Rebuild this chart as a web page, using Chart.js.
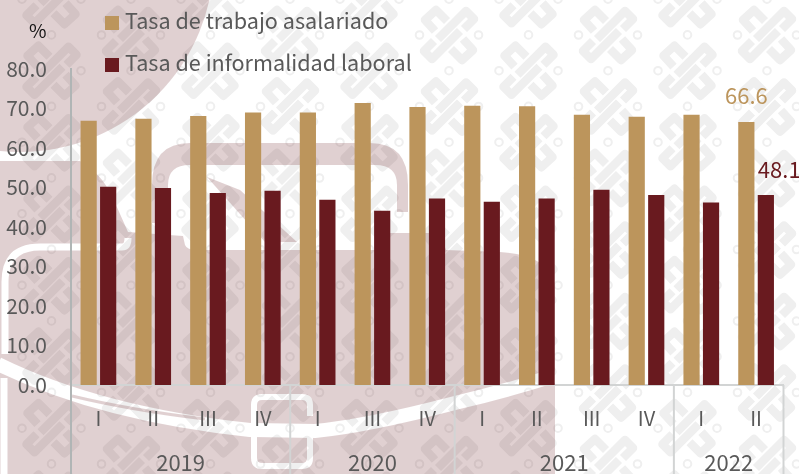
<!DOCTYPE html>
<html>
<head>
<meta charset="utf-8">
<script src="https://cdn.jsdelivr.net/npm/chart.js@4/dist/chart.umd.min.js"></script>
<style>
  html, body { margin: 0; padding: 0; background: #fff; overflow: hidden; }
  #wrap { position: relative; width: 799px; height: 474px; overflow: hidden; font-family: "Noto Sans CJK SC", "Noto Sans", sans-serif; }
  #bg, #chart { position: absolute; left: 0; top: 0; }
  .leg { position: absolute; left: 105px; color: #595959; font-size: 21.6px; line-height: 30px; white-space: nowrap; }
  .leg i { display: inline-block; width: 14px; height: 14px; margin-right: 6px; vertical-align: -1px; }
  #unit { position: absolute; left: 29px; top: 16px; font-size: 19px; line-height: 28px; color: #111; }
</style>
</head>
<body>
<div id="wrap">
  <svg id="bg" width="799" height="474" xmlns="http://www.w3.org/2000/svg">
    <defs>
      <g id="motif" fill="none" stroke="#efefef" stroke-width="8.5" stroke-linejoin="round">
        <path d="M-11,4 L17,-24 L25,-16 L15,-6"/>
        <path d="M11,-4 L-17,24 L-25,16 L-15,6"/>
        <path d="M-2,-14 L-13,-25 L-24,-15 L-14,-4"/>
        <path d="M2,14 L13,25 L24,15 L14,4"/>
        <circle cx="-29.5" cy="0" r="3.8" stroke-width="2"/>
        <circle cx="29.5" cy="0" r="3.8" stroke-width="2"/>
        <circle cx="0" cy="35.7" r="3.8" stroke-width="2"/>
      </g>
      <mask id="cuts" maskUnits="userSpaceOnUse" x="0" y="0" width="799" height="474">
        <rect width="799" height="474" fill="#fff"/>
        <g fill="none" stroke="#000" stroke-linejoin="round">
          <path d="M-2,364 Q100,414 250,430 L315,431 Q367,426 455,403 Q510,390 556,375" stroke-width="14"/>
          <path d="M5,354 L5,282 Q5,247 40,247 L122,247 Q128,247 128,238" stroke-width="7"/>
          <path d="M4,378 L4,474" stroke-width="7"/>
          <path d="M254,427 L254,405 Q254,397 262,397 L302,397 Q310,397 310,405 L310,416 M310,432 L310,458 Q310,466 302,466 L262,466 Q254,466 254,458 L254,435" stroke-width="6"/>
        </g>
        <g fill="none" stroke="#fff" stroke-width="3">
          <path d="M72,396 Q130,410 205,419"/>
          <path d="M316,417 L350,418"/>
        </g>
      </mask>
    </defs>
    <rect width="799" height="474" fill="#fff"/>
    <g id="motifs"></g>
    <g fill="#691a1f" opacity="0.2" mask="url(#cuts)">
      <circle cx="20" cy="-42" r="194"/>
      <path d="M0,161 L80,161 Q100,172 112,196 L128,232 L183,236 L185,245 Q187,250 197,250 L390,250 L390,233 L440,233 L446,250 L500,252 Q555,256 555,290 L555,474 L0,474 Z"/>
      <path d="M152,223 L152,185 Q152,143 190,143 L370,143 Q408,143 408,185 L408,212 L397,212 L397,185 Q397,165 375,165 L190,165 Q168,165 168,185 L168,223 Z"/>
      <path d="M207,177 L240,190 L297,242 L265,242 Z"/>
    </g>
  </svg>
  <canvas id="chart" width="799" height="474"></canvas>
  <div id="unit">%</div>
  <div class="leg" id="leg0" style="top:5px"></div>
  <div class="leg" id="leg1" style="top:47px"></div>
</div>
<script>
// quarters shown on the axis, 2020 has no II in the source
const quarters = ["I", "II", "III", "IV", "I", "III", "IV", "I", "II", "III", "IV", "I", "II"];
const years = ["2019", "2020", "2021", "2022"];
const yearSpans = [4, 3, 4, 2];
const asalariado = [66.9, 67.4, 68.1, 69.0, 69.0, 71.4, 70.4, 70.7, 70.6, 68.4, 67.9, 68.4, 66.6];
const informalidad = [50.2, 49.9, 48.6, 49.2, 46.9, 44.1, 47.2, 46.4, 47.2, 49.4, 48.1, 46.2, 48.1];

const gold = "#bc955c";
const maroon = "#691a1f";
const textGrey = "#595959";
const fontName = '"Noto Sans CJK SC", "Noto Sans", sans-serif';

// watermark tiles
const motifs = document.getElementById("motifs");
for (let k = -2; k < 12; k++) {
    for (let j = -1; j < 8; j++) {
        const use = document.createElementNS("http://www.w3.org/2000/svg", "use");
        const cx = 608 - 79.5 * (k - 4);
        const cy = 35 + 71.5 * j + (Math.abs(k) % 2 ? 35.7 : 0);
        use.setAttribute("href", "#motif");
        use.setAttribute("transform", "translate(" + cx + "," + cy + ")");
        motifs.appendChild(use);
    }
}

// year row and separators below the axis
const yearAxis = {
    id: "yearAxis",
    afterDraw(chart) {
        const ctx = chart.ctx;
        const x = chart.scales.x;
        const bottom = chart.chartArea.bottom;
        const step = x.getPixelForTick(1) - x.getPixelForTick(0);
        let start = 0;
        ctx.save();
        ctx.font = "22px " + fontName;
        ctx.textAlign = "center";
        ctx.textBaseline = "middle";
        ctx.lineWidth = 2;
        ctx.strokeStyle = "#b0b5b5";
        ctx.beginPath();
        ctx.moveTo(x.left, bottom);
        ctx.lineTo(x.left, 474);
        ctx.stroke();
        ctx.strokeStyle = "#d2d4d4";
        years.forEach(function (year, i) {
            const left = x.getPixelForTick(start) - step / 2;
            const right = left + step * yearSpans[i];
            ctx.beginPath();
            ctx.moveTo(right, bottom);
            ctx.lineTo(right, 474);
            ctx.stroke();
            ctx.fillStyle = textGrey;
            ctx.fillText(year, (left + right) / 2, 463);
            start += yearSpans[i];
        });
        ctx.restore();
    }
};

// only the last quarter carries a value label
const lastLabels = {
    id: "lastLabels",
    afterDatasetsDraw(chart) {
        const ctx = chart.ctx;
        const last = quarters.length - 1;
        const a = chart.getDatasetMeta(0).data[last];
        const b = chart.getDatasetMeta(1).data[last];
        ctx.save();
        ctx.font = "22px " + fontName;
        ctx.textBaseline = "middle";
        ctx.textAlign = "center";
        ctx.fillStyle = gold;
        ctx.fillText(asalariado[last].toFixed(1), a.x, a.y - 26);
        ctx.fillStyle = maroon;
        ctx.textAlign = "left";
        ctx.fillText(informalidad[last].toFixed(1), b.x - 8, b.y - 25);
        ctx.restore();
    }
};

const chart = new Chart(document.getElementById("chart"), {
    type: "bar",
    data: {
        labels: quarters,
        datasets: [
            { label: "Tasa de trabajo asalariado", data: asalariado, backgroundColor: gold },
            { label: "Tasa de informalidad laboral", data: informalidad, backgroundColor: maroon }
        ]
    },
    options: {
        responsive: false,
        animation: false,
        layout: { padding: { top: 69, right: 15.5, left: 0, bottom: 0 } },
        datasets: { bar: { categoryPercentage: 0.712, barPercentage: 0.83 } },
        plugins: { legend: { display: false }, tooltip: { enabled: false } },
        scales: {
            x: {
                grid: { display: false },
                border: { color: "#d2d4d4", width: 2 },
                ticks: { color: textGrey, font: { family: fontName, size: 20 }, padding: 13, maxRotation: 0, autoSkip: false },
                afterFit(s) { s.height = 89; }
            },
            y: {
                min: 0,
                max: 80,
                grid: { display: false },
                border: { color: "#b0b5b5", width: 2 },
                ticks: {
                    stepSize: 10,
                    color: textGrey,
                    padding: 16,
                    font: { family: fontName, size: 21 },
                    callback: function (v) { return v.toFixed(1); }
                },
                afterFit(s) { s.width = 71; }
            }
        }
    },
    plugins: [yearAxis, lastLabels]
});

// legend sits above the plot in two rows
chart.data.datasets.forEach(function (ds, i) {
    const el = document.getElementById("leg" + i);
    const box = document.createElement("i");
    box.style.background = ds.backgroundColor;
    el.appendChild(box);
    el.appendChild(document.createTextNode(ds.label));
});
</script>
</body>
</html>
